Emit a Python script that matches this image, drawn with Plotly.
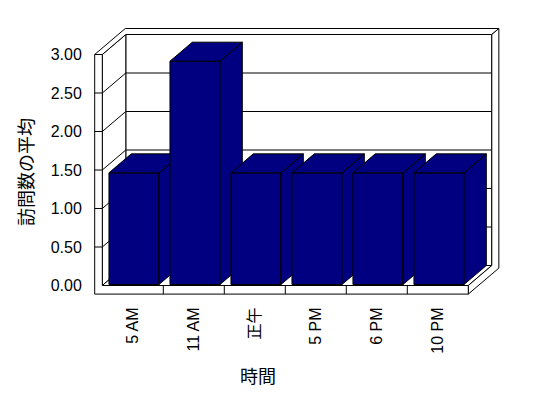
import plotly.graph_objects as go

# ---- data ----
categories = ["5 AM", "11 AM", "正午", "5 PM", "6 PM", "10 PM"]
values = [1.45, 2.9, 1.45, 1.45, 1.45, 1.45]
y_ticks = [0, 0.5, 1.0, 1.5, 2.0, 2.5, 3.0]
y_tick_labels = [f"{v:.2f}" for v in y_ticks]
x_title = "時間"
y_title = "訪問数の平均"

# ---- 3D (oblique) geometry, in axis units ----
SLOT_PX, UNIT_PX = 61.0, 77.0          # px per category slot / per value unit
OX, OY = 23.5 / SLOT_PX, 20.0 / UNIT_PX  # oblique shift per unit depth
WALL_T = 7.6 / SLOT_PX                  # left wall thickness
FLOOR_T = 8.6 / UNIT_PX                 # floor thickness
BACK_Z, BACK_T = 1.0, 0.3               # back wall position/thickness (depth)
BAR_W, BAR_Z0, BAR_Z1 = 0.82, 0.05, 1.0
N = len(categories)
YMAX = y_ticks[-1]

NAVY = "#000080"
FONT = "Liberation Sans, Arial, Noto Sans CJK JP, sans-serif"

fig = go.Figure()


def proj(pts):
    xs = [x + z * OX for x, y, z in pts]
    ys = [y + z * OY for x, y, z in pts]
    return xs, ys


def face(pts, fill="white"):
    xs, ys = proj(pts)
    xs.append(xs[0]); ys.append(ys[0])
    fig.add_trace(go.Scatter(x=xs, y=ys, mode="lines", fill="toself",
                             fillcolor=fill, line=dict(color="black", width=1),
                             hoverinfo="skip", showlegend=False))


def polyline(segs):
    xs, ys = [], []
    for seg in segs:
        sx, sy = proj(seg)
        xs += sx + [None]; ys += sy + [None]
    fig.add_trace(go.Scatter(x=xs, y=ys, mode="lines",
                             line=dict(color="black", width=1),
                             hoverinfo="skip", showlegend=False))


ZB = BACK_Z + BACK_T
# back wall front face
face([(0, 0, BACK_Z), (N, 0, BACK_Z), (N, YMAX, BACK_Z), (0, YMAX, BACK_Z)])
# left wall inner face
face([(0, 0, 0), (0, 0, BACK_Z), (0, YMAX, BACK_Z), (0, YMAX, 0)])
# floor top face
face([(0, 0, 0), (N, 0, 0), (N, 0, BACK_Z), (0, 0, BACK_Z)])
# gridlines on left wall and back wall
polyline([[(0, v, 0), (0, v, BACK_Z), (N, v, BACK_Z)] for v in y_ticks[1:-1]])
# top L face (left wall top + back wall top)
face([(-WALL_T, YMAX, 0), (0, YMAX, 0), (0, YMAX, BACK_Z), (N, YMAX, BACK_Z),
      (N, YMAX, ZB), (-WALL_T, YMAX, ZB)])
# right L face (floor right + back wall right)
face([(N, 0, 0), (N, 0, BACK_Z), (N, YMAX, BACK_Z), (N, YMAX, ZB),
      (N, -FLOOR_T, ZB), (N, -FLOOR_T, 0)])
# front L face (left wall front + floor front)
face([(-WALL_T, -FLOOR_T, 0), (N, -FLOOR_T, 0), (N, 0, 0), (0, 0, 0),
      (0, YMAX, 0), (-WALL_T, YMAX, 0)])
# category dividers on floor front and value ticks on wall front
polyline([[(i, -FLOOR_T, 0), (i, 0, 0)] for i in range(1, N)] +
         [[(-WALL_T, v, 0), (0, v, 0)] for v in y_ticks[1:-1]])

# bars
for i, v in enumerate(values):
    x0 = i + (1 - BAR_W) / 2
    x1 = x0 + BAR_W
    face([(x0, 0, BAR_Z0), (x1, 0, BAR_Z0), (x1, v, BAR_Z0), (x0, v, BAR_Z0)], NAVY)
    face([(x1, 0, BAR_Z0), (x1, 0, BAR_Z1), (x1, v, BAR_Z1), (x1, v, BAR_Z0)], NAVY)
    face([(x0, v, BAR_Z0), (x1, v, BAR_Z0), (x1, v, BAR_Z1), (x0, v, BAR_Z1)], NAVY)

# ---- layout: plot area in page pixels ----
W, H = 548, 398
L, R, T, B = 94, 520, 20, 296
ORIG_X, ORIG_Y = 102.3, 285.5   # pixel of (slot 0, value 0) on front plane

fig.update_layout(
    width=W, height=H, autosize=False,
    margin=dict(l=L, r=W - R, t=T, b=H - B, pad=0),
    paper_bgcolor="white", plot_bgcolor="rgba(0,0,0,0)",
    font=dict(family=FONT, size=16, color="black"),
    showlegend=False,
    xaxis=dict(range=[(L - ORIG_X) / SLOT_PX, (R - ORIG_X) / SLOT_PX],
               tickvals=[i + 0.5 for i in range(N)], ticktext=categories,
               tickangle=-90, showgrid=False, zeroline=False, showline=False,
               ticks="outside", ticklen=4, tickcolor="rgba(0,0,0,0)",
               fixedrange=True),
    yaxis=dict(range=[(ORIG_Y - B) / UNIT_PX, (ORIG_Y - T) / UNIT_PX],
               tickvals=y_ticks, ticktext=y_tick_labels,
               showgrid=False, zeroline=False, showline=False,
               ticks="outside", ticklen=8, tickcolor="rgba(0,0,0,0)",
               fixedrange=True),
    annotations=[
        dict(text=x_title, xref="paper", yref="paper",
             x=(258 - L) / (R - L), y=(B - 377) / (B - T),
             xanchor="center", yanchor="middle", showarrow=False,
             font=dict(size=18)),
        dict(text=y_title, xref="paper", yref="paper", textangle=-90,
             x=(27 - L) / (R - L), y=(B - 172) / (B - T),
             xanchor="center", yanchor="middle", showarrow=False,
             font=dict(size=18)),
    ],
)

fig.write_html("out.html")
